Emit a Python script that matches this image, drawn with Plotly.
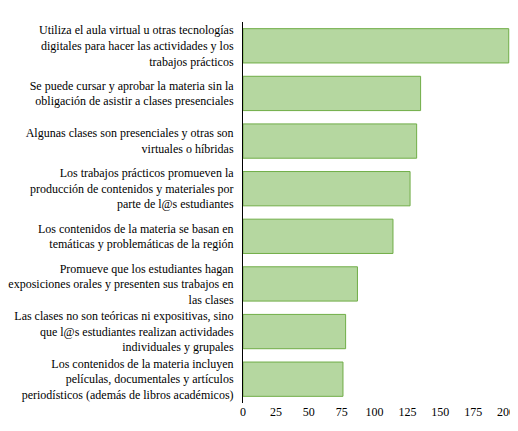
import plotly.graph_objects as go

categories = [
    "Utiliza el aula virtual u otras tecnologías<br>digitales para hacer las actividades y los<br>trabajos prácticos",
    "Se puede cursar y aprobar la materia sin la<br>obligación de asistir a clases presenciales",
    "Algunas clases son presenciales y otras son<br>virtuales o híbridas",
    "Los trabajos prácticos promueven la<br>producción de contenidos y materiales por<br>parte de l@s estudiantes",
    "Los contenidos de la materia se basan en<br>temáticas y problemáticas de la región",
    "Promueve que los estudiantes hagan<br>exposiciones orales y presenten sus trabajos en<br>las clases",
    "Las clases no son teóricas ni expositivas, sino<br>que l@s estudiantes realizan actividades<br>individuales y grupales",
    "Los contenidos de la materia incluyen<br>películas, documentales y artículos<br>periodísticos (además de libros académicos)",
]
values = [202, 135, 132, 127, 114, 87, 78, 76]
ticks = [0, 25, 50, 75, 100, 125, 150, 175, 200]

fig = go.Figure(go.Bar(
    y=categories, x=values, orientation="h",
    marker=dict(color="#b5d7a0", line=dict(color="#70ad47", width=1)),
    width=0.72,
))
fig.update_layout(
    width=518, height=431, plot_bgcolor="white", paper_bgcolor="white",
    margin=dict(l=235, r=12, t=14, b=36),
    font=dict(family="Liberation Serif, Times New Roman, serif", size=12, color="#000000"),
    showlegend=False,
)
fig.update_yaxes(autorange="reversed", showline=True, linecolor="#000000", linewidth=1,
                 ticks="", ticklabelstandoff=6, automargin=False)
fig.update_xaxes(range=[0, 206], tickvals=ticks, showgrid=False, zeroline=False,
                 showline=False, automargin=False)
fig.write_html("out.html")
